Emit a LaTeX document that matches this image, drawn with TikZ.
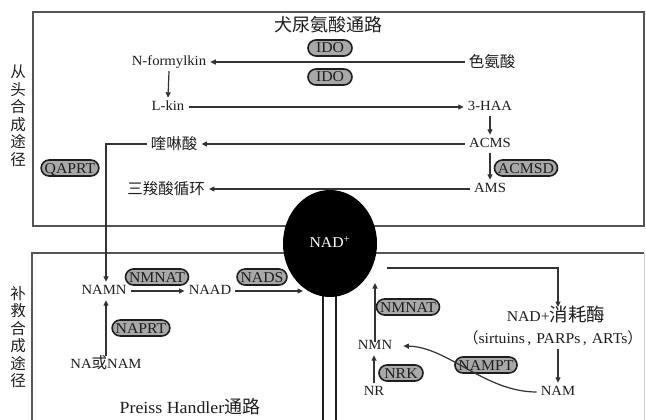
\documentclass[tikz,border=0pt]{standalone}
\usepackage{fontspec}
\setmainfont{Liberation Serif}[FakeStretch=1.05]
\newfontfamily\cjk{Noto Sans CJK SC}
\usetikzlibrary{arrows.meta,shapes.geometric}
\definecolor{ink}{HTML}{1E1E1E}
\definecolor{linec}{HTML}{333333}
\definecolor{pillfill}{HTML}{A8A8A8}
\definecolor{boxc}{HTML}{555555}
\begin{document}
\begin{tikzpicture}[x=1pt,y=-1pt,
  lbl/.style={inner xsep=4pt, inner ysep=3pt, text=ink, font=\fontsize{14}{14}\selectfont, text height=9.5pt, text depth=2.5pt},
  cj/.style={inner xsep=4pt, inner ysep=3pt, text=ink, font=\cjk\fontsize{15.5}{15.5}\selectfont},
  pill/.style={draw=ink, fill=pillfill, line width=1.6pt, rounded corners=8pt, inner xsep=3.5pt, inner ysep=3pt, minimum width=44pt, text=ink, font=\fontsize{15}{15}\selectfont, text height=10pt, text depth=0pt},
  arr/.style={draw=linec, line width=1.2pt, -{Triangle[length=5.5pt,width=5pt]}},
  ln/.style={draw=linec, line width=1.2pt},
  box/.style={draw=boxc, line width=1.4pt}]
\useasboundingbox (0,0) rectangle (646,420);
\fill[white] (0,0) rectangle (646,420);

% boxes
\draw[box] (33,12) rectangle (644,226);
\draw[box] (32,421) -- (32,253) -- (644,253);
\draw[draw=gray!40, line width=1pt] (644,253) -- (644,421);
\draw[draw=ink, line width=1.5pt] (323,280) -- (323,421);
\draw[draw=ink, line width=1.5pt] (336,280) -- (336,421);

% central NAD+
\node[ellipse, fill=black, minimum width=94pt, minimum height=107pt, inner sep=0pt, text=white, font=\fontsize{15}{15}\selectfont] (nad) at (330,243.5) {\raisebox{3pt}{NAD\textsuperscript{+}}};

% side labels
\node[cj, align=center, font=\cjk\fontsize{15.5}{17.5}\selectfont] (denovo) at (18,116) {从\\头\\合\\成\\途\\径};
\node[cj, align=center, font=\cjk\fontsize{15.5}{17.5}\selectfont] (salv) at (18,337) {补\\救\\合\\成\\途\\径};

% kynurenine pathway
\node[cj, font=\cjk\fontsize{18}{18}\selectfont] (title) at (328,25) {犬尿氨酸通路};
\node[pill] (ido1) at (330,48) {IDO};
\node[pill] (ido2) at (330,77) {IDO};
\node[cj] (trp) at (492,62) {色氨酸};
\node[lbl] (nfk) at (169,62) {N-formylkin};
\node[lbl] (lkin) at (168,107) {L-kin};
\node[lbl] (haa) at (490,107) {3-HAA};
\node[lbl] (acms) at (490,144) {ACMS};
\node[cj] (qa) at (174,144) {喹啉酸};
\node[pill] (acmsd) at (526,168) {ACMSD};
\node[lbl] (ams) at (490,189) {AMS};
\node[cj] (tca) at (166,189) {三羧酸循环};
\node[pill] (qaprt) at (70,168) {QAPRT};
\coordinate (qcol) at (106,0);

\draw[arr] (trp.west) -- (nfk.east);
\draw[arr] (nfk.south) -- (lkin.north);
\draw[arr] (lkin.east) -- (haa.west);
\draw[arr] (haa.south) -- (acms.north);
\draw[arr] (acms.west) -- (qa.east);
\draw[arr] (acms.south) -- (ams.north);
\draw[arr] (ams.west) -- (tca.east);

% Preiss Handler
\node[lbl] (namn) at (104,291) {NAMN};
\node[pill] (nmnat1) at (157,277) {NMNAT};
\node[lbl] (naad) at (210,291) {NAAD};
\node[pill] (nads) at (262,277) {NADS};
\node[pill] (naprt) at (141,328) {NAPRT};
\node[lbl] (nanam) at (106,365) {NA{\cjk\fontsize{15.5}{15.5}\selectfont 或}NAM};
\node[lbl, font=\fontsize{17}{17}\selectfont, text height=11pt] (ph) at (190,409) {Preiss Handler{\cjk\fontsize{18}{18}\selectfont 通路}};
\coordinate (naddest) at (303,291);

\draw[arr] (qa.west) -| (qcol |- namn.north);
\draw[arr] (namn.east) -- (naad.west);
\draw[arr] (naad.east) -- (naddest);
\draw[arr] (nanam.north) -- (nanam.north |- namn.south);

% salvage right
\node[lbl, font=\fontsize{15}{15}\selectfont, text height=11pt] (cons) at (556,317) {NAD+{\cjk\fontsize{18.5}{18.5}\selectfont 消耗酶}};
\node[lbl, font=\fontsize{15}{15}\selectfont] (cons2) at (553,340) {{\cjk （}sirtuins\,,\,\,PARPs\,,\,\,ARTs{\cjk ）}};
\node[lbl] (nam) at (558,392) {NAM};
\node[pill] (nampt) at (486,365) {NAMPT};
\node[lbl] (nmn) at (375,346) {NMN};
\node[pill] (nmnat2) at (408,307) {NMNAT};
\node[lbl] (nr) at (374,392) {NR};
\node[pill] (nrk) at (401,373) {NRK};
\coordinate (nadR) at (387,268);
\coordinate (nadB) at (0,283);

\draw[arr] (nadR) -| ([xshift=2pt]cons.north);
\draw[arr] (cons2.south -| nam.north) -- (nam.north);
\draw[arr] (nam.west) .. controls (485,392) and (448,347) .. ([xshift=7pt]nmn.east);
\draw[arr] ([yshift=-5pt]nmn.north) -- (nmn.north |- nadB);
\draw[arr] (nr.north) -- (nr.north |- nmn.south);
\end{tikzpicture}
\end{document}
